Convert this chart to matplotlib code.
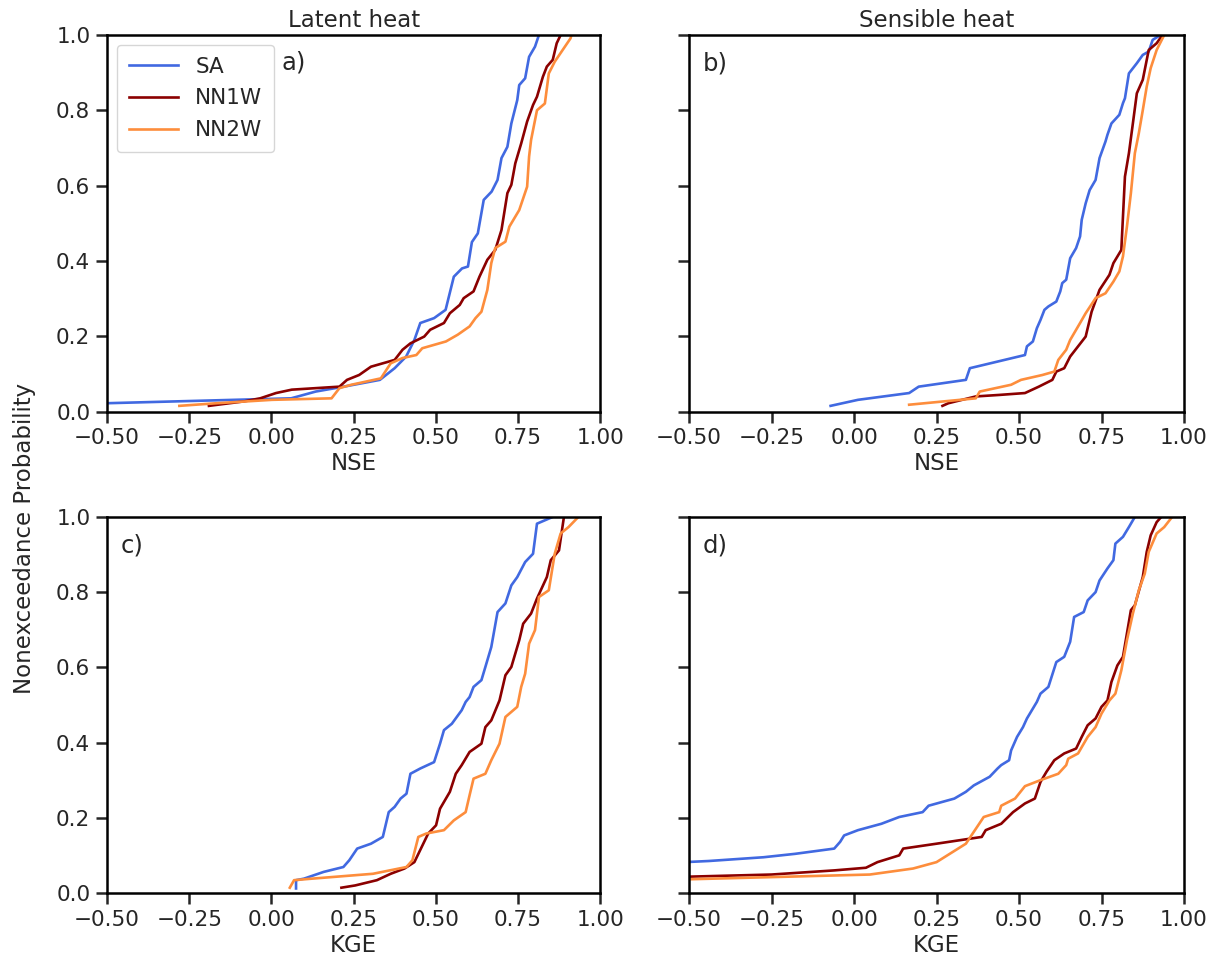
import matplotlib
matplotlib.use("Agg")
import matplotlib.pyplot as plt

# values: sorted score (x) and nonexceedance probability (p)
# a) latent heat, NSE
sa_a_x = [-0.56, -0.5, 0.06, 0.135, 0.22, 0.33, 0.375, 0.41, 0.435, 0.453, 0.495, 0.53, 0.555, 0.58, 0.598,
          0.61, 0.628, 0.646, 0.67, 0.688, 0.70, 0.718, 0.73, 0.748, 0.754, 0.772, 0.784, 0.802, 0.814]
sa_a_p = [0.021, 0.022, 0.035, 0.053, 0.066, 0.084, 0.115, 0.146, 0.19, 0.235, 0.248, 0.27, 0.358, 0.38, 0.385,
          0.45, 0.473, 0.562, 0.584, 0.615, 0.673, 0.703, 0.765, 0.827, 0.867, 0.885, 0.942, 0.969, 1.0]
nn1_a_x = [-0.19, -0.082, -0.034, 0.014, 0.062, 0.207, 0.23, 0.267, 0.303, 0.339, 0.375, 0.399, 0.423, 0.465,
           0.483, 0.525, 0.543, 0.573, 0.585, 0.615, 0.633, 0.657, 0.681, 0.70, 0.718, 0.73, 0.742, 0.76, 0.778,
           0.796, 0.808, 0.826, 0.838, 0.856, 0.868, 0.88]
nn1_a_p = [0.015, 0.027, 0.035, 0.049, 0.058, 0.066, 0.084, 0.097, 0.119, 0.128, 0.137, 0.164, 0.181, 0.199,
           0.217, 0.235, 0.261, 0.283, 0.301, 0.319, 0.358, 0.403, 0.429, 0.482, 0.58, 0.602, 0.659, 0.712, 0.77,
           0.814, 0.836, 0.889, 0.916, 0.934, 0.978, 1.0]
nn2_a_x = [-0.28, -0.166, 0.002, 0.183, 0.207, 0.243, 0.333, 0.363, 0.399, 0.441, 0.459, 0.531, 0.567, 0.603,
           0.621, 0.639, 0.657, 0.669, 0.681, 0.712, 0.724, 0.754, 0.778, 0.784, 0.79, 0.808, 0.832, 0.844,
           0.862, 0.886, 0.91, 0.913]
nn2_a_p = [0.015, 0.022, 0.031, 0.035, 0.062, 0.071, 0.088, 0.128, 0.142, 0.15, 0.168, 0.186, 0.204, 0.226,
           0.248, 0.265, 0.323, 0.394, 0.434, 0.451, 0.491, 0.535, 0.597, 0.677, 0.721, 0.80, 0.818, 0.898,
           0.929, 0.96, 0.991, 1.0]

# b) sensible heat, NSE
sa_b_x = [-0.071, 0.012, 0.167, 0.196, 0.339, 0.351, 0.518, 0.524, 0.542, 0.554, 0.565, 0.577, 0.589, 0.613,
          0.625, 0.631, 0.643, 0.655, 0.673, 0.685, 0.69, 0.702, 0.714, 0.732, 0.744, 0.762, 0.768, 0.78, 0.804,
          0.815, 0.821, 0.833, 0.857, 0.875, 0.893, 0.905, 0.929]
sa_b_p = [0.015, 0.031, 0.049, 0.066, 0.084, 0.115, 0.15, 0.173, 0.186, 0.221, 0.243, 0.27, 0.279, 0.292,
          0.319, 0.341, 0.35, 0.407, 0.434, 0.465, 0.509, 0.553, 0.588, 0.615, 0.673, 0.717, 0.735, 0.765, 0.788,
          0.819, 0.832, 0.898, 0.925, 0.947, 0.956, 0.987, 1.0]
nn1_b_x = [0.268, 0.286, 0.369, 0.44, 0.518, 0.56, 0.601, 0.613, 0.637, 0.655, 0.702, 0.72, 0.744, 0.774,
           0.786, 0.81, 0.821, 0.833, 0.845, 0.857, 0.875, 0.893, 0.917, 0.935]
nn1_b_p = [0.015, 0.022, 0.04, 0.044, 0.049, 0.066, 0.084, 0.106, 0.115, 0.146, 0.199, 0.265, 0.323, 0.363,
           0.394, 0.429, 0.624, 0.686, 0.765, 0.845, 0.881, 0.96, 0.978, 1.0]
nn2_b_x = [0.167, 0.369, 0.381, 0.476, 0.506, 0.571, 0.607, 0.619, 0.643, 0.655, 0.685, 0.702, 0.732, 0.762,
           0.786, 0.804, 0.815, 0.827, 0.839, 0.851, 0.863, 0.875, 0.887, 0.899, 0.917, 0.94]
nn2_b_p = [0.018, 0.035, 0.053, 0.071, 0.084, 0.097, 0.106, 0.137, 0.164, 0.19, 0.235, 0.261, 0.301, 0.314,
           0.345, 0.372, 0.412, 0.491, 0.58, 0.686, 0.739, 0.80, 0.863, 0.912, 0.96, 1.0]

# c) latent heat, KGE
sa_c_x = [0.075, 0.075, 0.099, 0.159, 0.219, 0.237, 0.261, 0.303, 0.339, 0.357, 0.375, 0.393, 0.411, 0.423,
          0.453, 0.495, 0.513, 0.525, 0.549, 0.579, 0.591, 0.603, 0.615, 0.639, 0.651, 0.669, 0.688, 0.712,
          0.73, 0.748, 0.772, 0.796, 0.808, 0.856]
sa_c_p = [0.012, 0.034, 0.038, 0.056, 0.069, 0.087, 0.118, 0.131, 0.149, 0.215, 0.229, 0.251, 0.264, 0.317,
          0.331, 0.348, 0.397, 0.433, 0.45, 0.486, 0.508, 0.521, 0.548, 0.566, 0.601, 0.654, 0.747, 0.77,
          0.818, 0.84, 0.88, 0.902, 0.982, 1.0]
nn1_c_x = [0.213, 0.255, 0.321, 0.363, 0.405, 0.435, 0.477, 0.501, 0.513, 0.543, 0.561, 0.579, 0.603, 0.639,
           0.651, 0.669, 0.694, 0.712, 0.73, 0.754, 0.766, 0.79, 0.808, 0.838, 0.85, 0.875, 0.89]
nn1_c_p = [0.014, 0.02, 0.034, 0.051, 0.065, 0.082, 0.158, 0.18, 0.224, 0.269, 0.317, 0.34, 0.375, 0.397,
           0.441, 0.459, 0.512, 0.579, 0.601, 0.672, 0.716, 0.743, 0.783, 0.84, 0.885, 0.911, 1.0]
nn2_c_x = [0.056, 0.069, 0.123, 0.309, 0.411, 0.429, 0.447, 0.471, 0.525, 0.555, 0.591, 0.603, 0.615, 0.651,
           0.669, 0.694, 0.712, 0.748, 0.76, 0.772, 0.784, 0.802, 0.814, 0.844, 0.862, 0.88, 0.904, 0.934]
nn2_c_p = [0.014, 0.034, 0.038, 0.051, 0.069, 0.087, 0.149, 0.158, 0.167, 0.193, 0.215, 0.26, 0.304, 0.317,
           0.353, 0.397, 0.468, 0.495, 0.548, 0.583, 0.663, 0.699, 0.787, 0.805, 0.902, 0.956, 0.973, 1.0]

# d) sensible heat, KGE
sa_d_x = [-0.56, -0.44, -0.274, -0.179, -0.06, -0.042, -0.03, 0.012, 0.083, 0.137, 0.208, 0.226, 0.304,
          0.339, 0.363, 0.411, 0.435, 0.446, 0.47, 0.476, 0.494, 0.512, 0.524, 0.554, 0.565, 0.589, 0.613,
          0.637, 0.655, 0.667, 0.696, 0.708, 0.732, 0.744, 0.768, 0.786, 0.792, 0.815, 0.833, 0.851]
sa_d_p = [0.08, 0.085, 0.095, 0.104, 0.118, 0.136, 0.153, 0.167, 0.184, 0.202, 0.215, 0.232, 0.251, 0.269,
          0.286, 0.309, 0.331, 0.34, 0.353, 0.379, 0.415, 0.441, 0.464, 0.508, 0.53, 0.548, 0.614, 0.628,
          0.668, 0.734, 0.747, 0.778, 0.8, 0.831, 0.863, 0.885, 0.929, 0.947, 0.973, 1.0]
nn1_d_x = [-0.56, -0.25, -0.06, 0.036, 0.071, 0.137, 0.149, 0.25, 0.387, 0.399, 0.446, 0.482, 0.518, 0.548,
           0.565, 0.583, 0.607, 0.637, 0.673, 0.69, 0.708, 0.732, 0.75, 0.768, 0.78, 0.798, 0.815, 0.839,
           0.851, 0.875, 0.887, 0.899, 0.917, 0.931]
nn1_d_p = [0.042, 0.049, 0.06, 0.067, 0.082, 0.1, 0.118, 0.131, 0.149, 0.167, 0.184, 0.215, 0.238, 0.251,
           0.295, 0.322, 0.353, 0.371, 0.384, 0.415, 0.446, 0.464, 0.495, 0.512, 0.561, 0.605, 0.628, 0.752,
           0.765, 0.84, 0.907, 0.951, 0.986, 1.0]
nn2_d_x = [-0.56, 0.048, 0.179, 0.25, 0.339, 0.393, 0.44, 0.446, 0.488, 0.518, 0.565, 0.619, 0.643, 0.649,
           0.679, 0.708, 0.732, 0.75, 0.774, 0.792, 0.81, 0.827, 0.845, 0.863, 0.881, 0.893, 0.917, 0.94, 0.964]
nn2_d_p = [0.035, 0.049, 0.065, 0.082, 0.131, 0.202, 0.215, 0.232, 0.251, 0.284, 0.3, 0.317, 0.34, 0.357,
           0.371, 0.415, 0.441, 0.477, 0.512, 0.53, 0.592, 0.672, 0.743, 0.805, 0.849, 0.907, 0.956, 0.973, 1.0]

models = ["SA", "NN1W", "NN2W"]
colors = ["royalblue", "darkred", "#fd8d3c"]
panel_labels = ["a)", "b)", "c)", "d)"]
xlabels = ["NSE", "NSE", "KGE", "KGE"]
titles = ["Latent heat", "Sensible heat"]
xticks = [-0.5, -0.25, 0.0, 0.25, 0.5, 0.75, 1.0]
yticks = [0.0, 0.2, 0.4, 0.6, 0.8, 1.0]

panels = [
    [(sa_a_x, sa_a_p), (nn1_a_x, nn1_a_p), (nn2_a_x, nn2_a_p)],
    [(sa_b_x, sa_b_p), (nn1_b_x, nn1_b_p), (nn2_b_x, nn2_b_p)],
    [(sa_c_x, sa_c_p), (nn1_c_x, nn1_c_p), (nn2_c_x, nn2_c_p)],
    [(sa_d_x, sa_d_p), (nn1_d_x, nn1_d_p), (nn2_d_x, nn2_d_p)],
]

txt = "#262626"
plt.rcParams["font.family"] = "DejaVu Sans"
plt.rcParams["text.color"] = txt
plt.rcParams["axes.labelcolor"] = txt
plt.rcParams["xtick.color"] = txt
plt.rcParams["ytick.color"] = txt

fig = plt.figure(figsize=(12.15, 9.61), dpi=100)
# axes boxes in figure fractions: left, bottom, width, height
boxes = [
    [0.0881, 0.5718, 0.4058, 0.3918],
    [0.5671, 0.5718, 0.4074, 0.3918],
    [0.0881, 0.0708, 0.4058, 0.3913],
    [0.5671, 0.0708, 0.4074, 0.3913],
]

for i, box in enumerate(boxes):
    ax = fig.add_axes(box)
    for (x, p), name, c in zip(panels[i], models, colors):
        ax.plot(x, p, color=c, lw=1.9, label=name)
    ax.set_xlim(-0.5, 1.0)
    ax.set_ylim(0.0, 1.0)
    ax.set_xticks(xticks)
    ax.set_yticks(yticks)
    ax.tick_params(labelsize=15.5, length=8, width=1.8, pad=4)
    for s in ax.spines.values():
        s.set_linewidth(1.8)
    ax.set_xlabel(xlabels[i], fontsize=16.5, labelpad=3)
    if i % 2 == 1:
        ax.set_yticklabels([])
    if i < 2:
        ax.set_title(titles[i], fontsize=16.5, pad=6)
    if i == 0:
        ax.legend(loc="upper left", fontsize=15.5, handlelength=2.3, borderpad=0.55,
                  labelspacing=0.55, borderaxespad=0.45, framealpha=0.8, edgecolor="#cccccc")
        ax.text(0.353, 0.928, panel_labels[i], transform=ax.transAxes, fontsize=17.5, va="center")
    else:
        ax.text(0.028, 0.925, panel_labels[i], transform=ax.transAxes, fontsize=17.5, va="center")

fig.text(0.02, 0.44, "Nonexceedance Probability", rotation=90, fontsize=16.5,
         va="center", ha="center")

fig.savefig("out.png", dpi=100)
